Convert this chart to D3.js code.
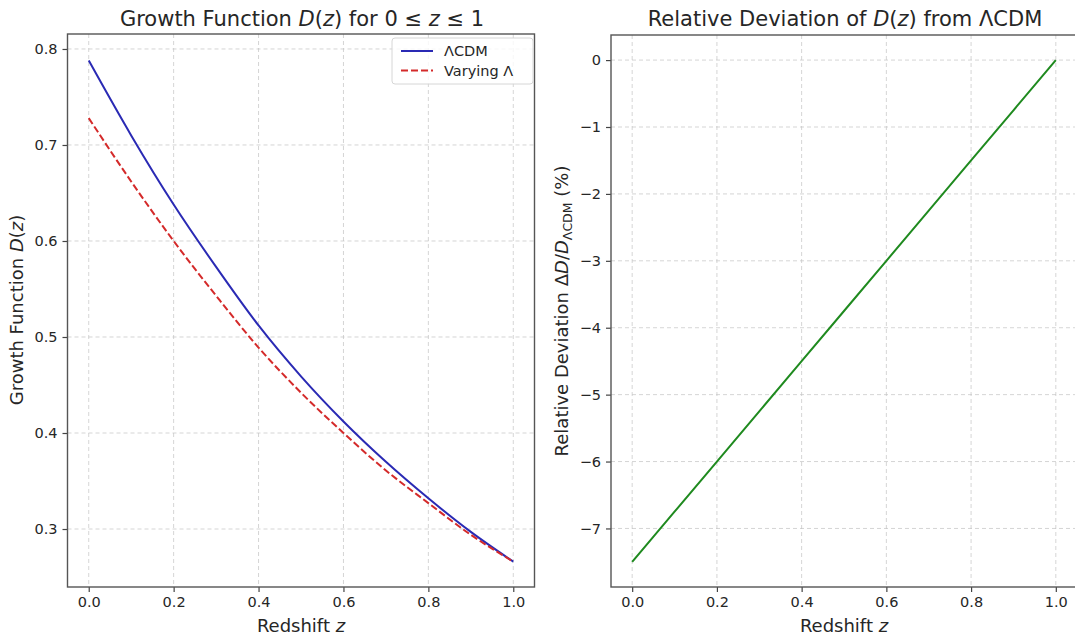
<!DOCTYPE html>
<html>
<head>
<meta charset="utf-8">
<script src="https://cdn.jsdelivr.net/npm/d3@7"></script>
<style>
  body { margin: 0; background: #fff; }
  text { font-family: "DejaVu Sans", sans-serif; fill: #262626; }
</style>
</head>
<body>
<svg id="fig" width="1075" height="637"></svg>
<script>
// values
var redshift = [0, 0.1, 0.2, 0.3, 0.4, 0.5, 0.6, 0.7, 0.8, 0.9, 1.0];
var dLcdm    = [0.788, 0.710, 0.638, 0.573, 0.512, 0.459, 0.412, 0.370, 0.332, 0.297, 0.266];
var dVarying = [0.728, 0.662, 0.600, 0.543, 0.489, 0.442, 0.400, 0.361, 0.327, 0.294, 0.266];
var deviation = [-7.5, -6.75, -6.0, -5.25, -4.5, -3.75, -3.0, -2.25, -1.5, -0.75, 0];

var xTicks = [0, 0.2, 0.4, 0.6, 0.8, 1.0];
var leftYTicks = [0.3, 0.4, 0.5, 0.6, 0.7, 0.8];
var rightYTicks = [0, -1, -2, -3, -4, -5, -6, -7];

var svg = d3.select("#fig");
var minus = function(v) { return String(v).replace("-", "\u2212"); };

function panel(box, xDom, yDom, yTicks, yFmt) {
  var g = svg.append("g");
  var x = d3.scaleLinear().domain(xDom).range([box.l, box.r]);
  var y = d3.scaleLinear().domain(yDom).range([box.b, box.t]);

  // grid
  g.selectAll(".gx").data(xTicks).enter().append("line")
    .attr("x1", d => x(d)).attr("x2", d => x(d))
    .attr("y1", box.t).attr("y2", box.b)
    .attr("stroke", "#c4c4c4").attr("stroke-opacity", 0.8)
    .attr("stroke-dasharray", "4,3").attr("stroke-width", 0.9);
  g.selectAll(".gy").data(yTicks).enter().append("line")
    .attr("y1", d => y(d)).attr("y2", d => y(d))
    .attr("x1", box.l).attr("x2", box.r)
    .attr("stroke", "#c4c4c4").attr("stroke-opacity", 0.8)
    .attr("stroke-dasharray", "4,3").attr("stroke-width", 0.9);

  var xAxis = g.append("g").attr("transform", "translate(0," + box.b + ")")
    .call(d3.axisBottom(x).tickValues(xTicks).tickFormat(d3.format(".1f")).tickSize(5).tickPadding(5));
  var yAxis = g.append("g").attr("transform", "translate(" + box.l + ",0)")
    .call(d3.axisLeft(y).tickValues(yTicks).tickFormat(yFmt).tickSize(5).tickPadding(5));
  [xAxis, yAxis].forEach(function(a) {
    a.select(".domain").remove();
    a.selectAll("line").attr("stroke", "#444").attr("stroke-width", 1.2);
    a.selectAll("text").style("font-size", "14.5px").style("font-family", "DejaVu Sans").attr("fill", "#262626");
  });

  return { g: g, x: x, y: y, box: box };
}

function frame(p) {
  var b = p.box;
  p.g.append("rect").attr("x", b.l).attr("y", b.t)
    .attr("width", b.r - b.l).attr("height", b.b - b.t)
    .attr("fill", "none").attr("stroke", "#555").attr("stroke-width", 1.4);
}

// ---------- left panel ----------
var left = panel({ l: 67.5, r: 534.5, t: 34, b: 587 }, [-0.05, 1.05], [0.2396, 0.8156], leftYTicks, d3.format(".1f"));

var lineL = d3.line().x((d, i) => left.x(redshift[i])).y(d => left.y(d)).curve(d3.curveMonotoneX);
left.g.append("path").datum(dLcdm).attr("d", lineL)
  .attr("fill", "none").attr("stroke", "#2a2ab4").attr("stroke-width", 2);
left.g.append("path").datum(dVarying).attr("d", lineL)
  .attr("fill", "none").attr("stroke", "#d42a2a").attr("stroke-width", 2)
  .attr("stroke-dasharray", "7,3");
frame(left);

// legend
var leg = left.g.append("g").attr("transform", "translate(392,38)");
leg.append("rect").attr("width", 141).attr("height", 46).attr("rx", 3)
  .attr("fill", "#fff").attr("fill-opacity", 0.8).attr("stroke", "#d6d6d6");
var legItems = [
  { label: "\u039BCDM", color: "#2a2ab4", dash: null },
  { label: "Varying \u039B", color: "#d42a2a", dash: "7,3" }
];
legItems.forEach(function(it, i) {
  var yy = 13 + i * 19.5;
  leg.append("line").attr("x1", 9).attr("x2", 41).attr("y1", yy).attr("y2", yy)
    .attr("stroke", it.color).attr("stroke-width", 2)
    .attr("stroke-dasharray", it.dash);
  leg.append("text").attr("x", 52).attr("y", yy + 5).style("font-size", "14.5px").text(it.label);
});

svg.append("text").attr("x", 302).attr("y", 26).attr("text-anchor", "middle")
  .style("font-size", "21px")
  .html('Growth Function <tspan font-style="italic">D</tspan>(<tspan font-style="italic">z</tspan>) for 0 \u2264 <tspan font-style="italic">z</tspan> \u2264 1');
svg.append("text").attr("x", 301).attr("y", 632).attr("text-anchor", "middle")
  .style("font-size", "18px")
  .html('Redshift <tspan font-style="italic">z</tspan>');
svg.append("text").attr("transform", "translate(23,310) rotate(-90)").attr("text-anchor", "middle")
  .style("font-size", "18px")
  .html('Growth Function <tspan font-style="italic">D</tspan>(<tspan font-style="italic">z</tspan>)');

// ---------- right panel ----------
var right = panel({ l: 611, r: 1077, t: 35, b: 587 }, [-0.05, 1.05], [-7.875, 0.375], rightYTicks, minus);

var lineR = d3.line().x((d, i) => right.x(redshift[i])).y(d => right.y(d));
right.g.append("path").datum(deviation).attr("d", lineR)
  .attr("fill", "none").attr("stroke", "#1f8a1f").attr("stroke-width", 2);
frame(right);

svg.append("text").attr("x", 845).attr("y", 26).attr("text-anchor", "middle")
  .style("font-size", "21px")
  .html('Relative Deviation of <tspan font-style="italic">D</tspan>(<tspan font-style="italic">z</tspan>) from \u039BCDM');
svg.append("text").attr("x", 844).attr("y", 632).attr("text-anchor", "middle")
  .style("font-size", "18px")
  .html('Redshift <tspan font-style="italic">z</tspan>');
svg.append("text").attr("transform", "translate(568,311) rotate(-90)").attr("text-anchor", "middle")
  .style("font-size", "18px")
  .html('Relative Deviation \u0394<tspan font-style="italic">D</tspan>/<tspan font-style="italic">D</tspan><tspan font-size="12.5px" dy="4">\u039BCDM</tspan><tspan dy="-4"> (%)</tspan>');
</script>
</body>
</html>
